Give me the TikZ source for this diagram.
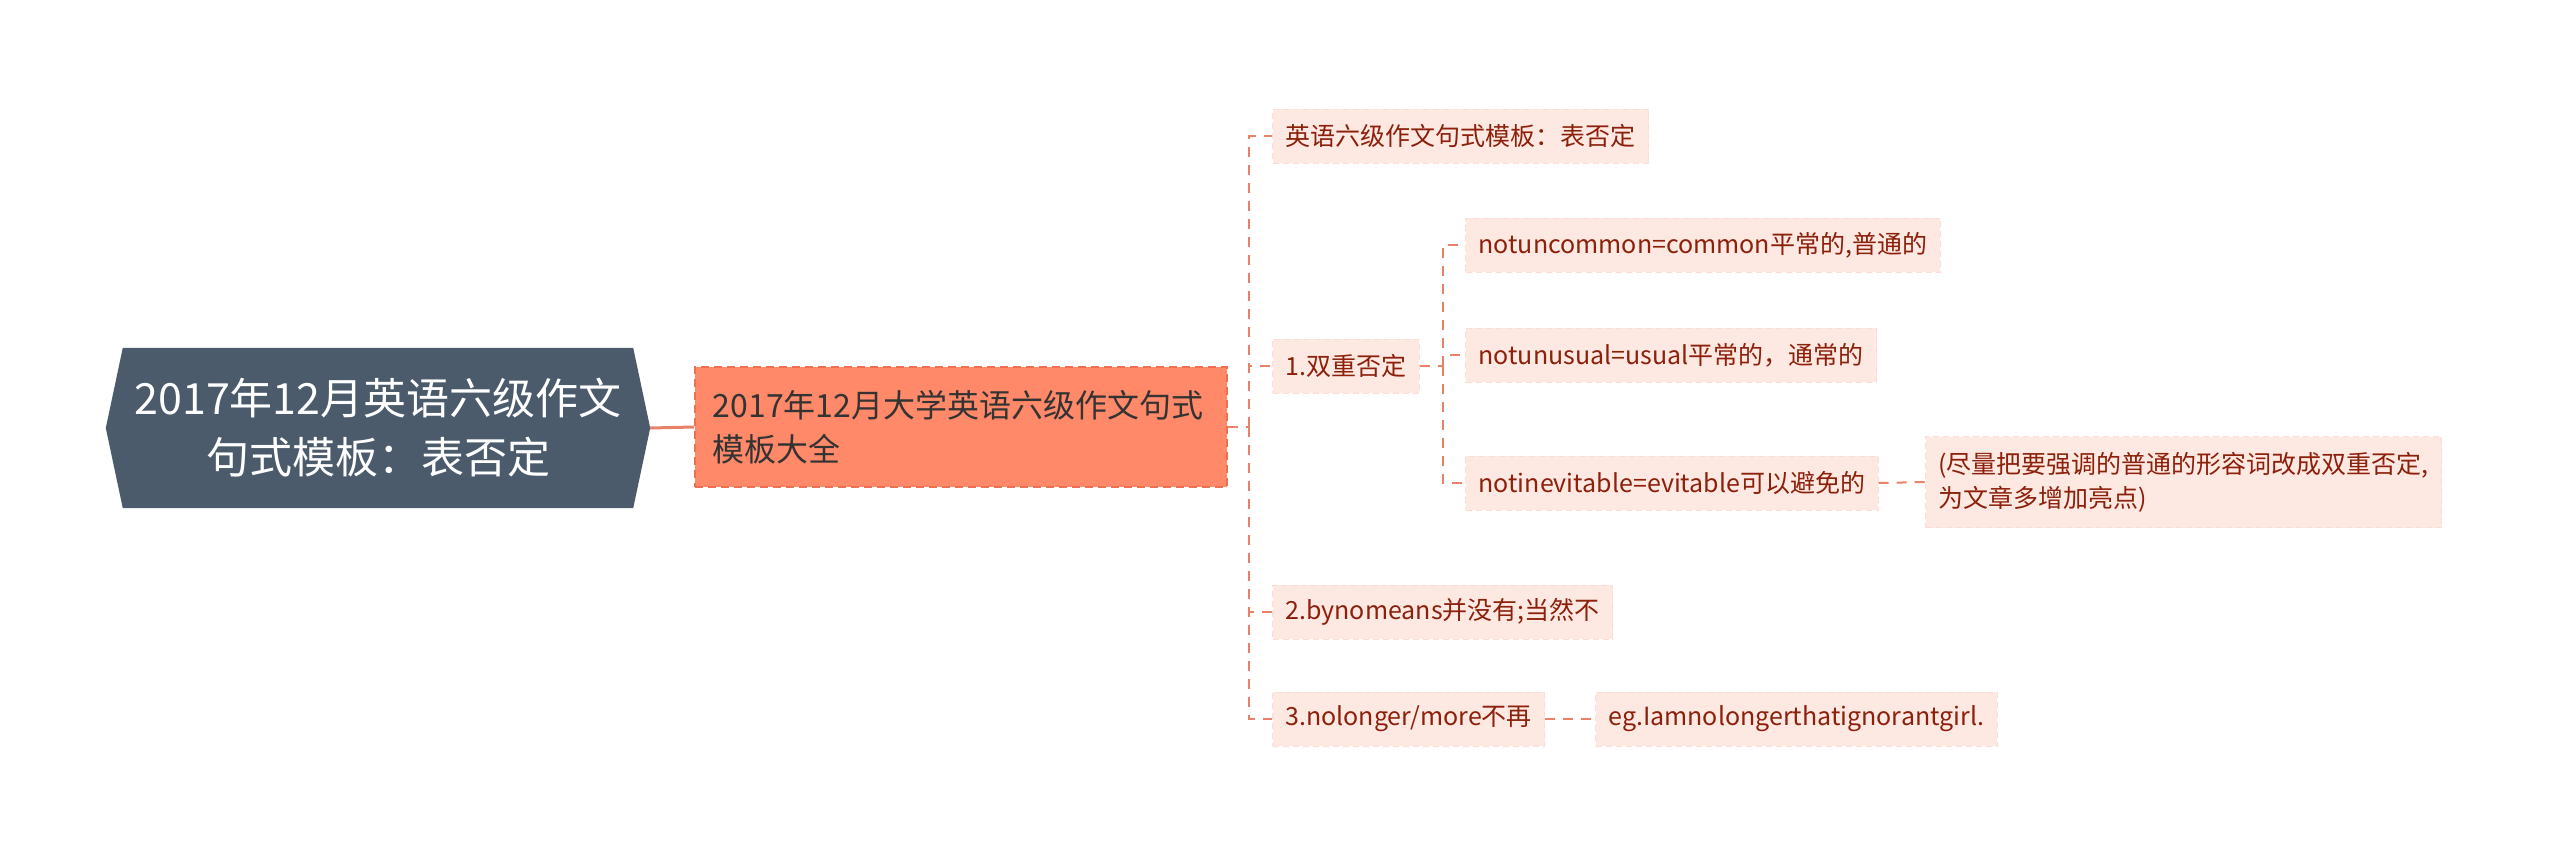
\documentclass[tikz,border=0pt]{standalone}
\usepackage{fontspec}
\setmainfont{Noto Sans CJK SC}
\usetikzlibrary{backgrounds,calc}
\definecolor{rootfill}{RGB}{75,91,107}
\definecolor{mainfill}{RGB}{255,137,104}
\definecolor{mainborder}{RGB}{238,112,80}
\definecolor{leaffill}{RGB}{253,232,226}
\definecolor{leafborder}{RGB}{250,222,213}
\definecolor{leaftext}{RGB}{140,32,10}
\definecolor{connc}{RGB}{233,128,104}
\tikzset{
  leaf/.style={fill=leaffill, draw=leafborder, line width=1pt, dash pattern=on 6pt off 4pt,
    text=leaftext, font=\fontsize{25}{34}\selectfont, inner xsep=13pt, inner ysep=0pt,
    minimum height=54pt, anchor=west},
  mainbox/.style={fill=mainfill, draw=mainborder, line width=1.5pt, dash pattern=on 8pt off 5pt,
    text=black!80, font=\fontsize{32}{44}\selectfont, inner xsep=18pt, inner ysep=0pt,
    text width=496pt, align=left, minimum height=120pt, anchor=west},
  rootbox/.style={text=white, font=\fontsize{43}{59}\selectfont, align=center,
    minimum width=510pt, minimum height=160pt, inner sep=0pt},
  conn/.style={draw=connc, line width=2pt, dash pattern=on 10pt off 8pt},
  rootconn/.style={draw=connc, line width=3pt}
}
\begin{document}
\begin{tikzpicture}[x=1pt,y=-1pt]
\useasboundingbox (0,0) rectangle (2560,855);
\node[rootbox] (root) at (378,428) {2017年12月英语六级作文\\句式模板：表否定};
\coordinate (rootR) at ($(root.east)+(17,0)$);
\coordinate (rootL) at ($(root.west)+(-17,0)$);
\begin{scope}[on background layer]
\fill[rootfill] (root.north west) -- (root.north east) -- (rootR) -- (root.south east)
  -- (root.south west) -- (rootL) -- cycle;
\end{scope}
\node[mainbox] (main) at (694,427) {2017年12月大学英语六级作文句式\\模板大全};
\draw[rootconn] (rootR) -- (main.west);

\node[leaf] (a1) at (1272,136) {英语六级作文句式模板：表否定};
\node[leaf] (a2) at (1272,366) {1.双重否定};
\node[leaf] (a3) at (1272,612) {2.bynomeans并没有;当然不};
\node[leaf] (a4) at (1272,719) {3.nolonger/more不再};
\node[leaf] (b1) at (1465,245) {notuncommon=common平常的,普通的};
\node[leaf] (b2) at (1465,355) {notunusual=usual平常的，通常的};
\node[leaf] (b3) at (1465,483) {notinevitable=evitable可以避免的};
\node[leaf, align=left, minimum height=91pt] (c1) at (1925,482) {(尽量把要强调的普通的形容词改成双重否定,\\为文章多增加亮点)};
\node[leaf] (c2) at (1595,719) {eg.Iamnolongerthatignorantgirl.};

\coordinate (t1) at (1249,427);
\coordinate (t2) at (1443,366);
\draw[conn] (main.east) -- (t1);
\foreach \n in {a1,a2,a3,a4} \draw[conn] (t1) |- (\n.west);
\draw[conn] (a2.east) -- (t2);
\foreach \n in {b1,b2,b3} \draw[conn] (t2) |- (\n.west);
\draw[conn] (b3.east) -- (c1.west);
\draw[conn] (a4.east) -- (c2.west);
\end{tikzpicture}
\end{document}
